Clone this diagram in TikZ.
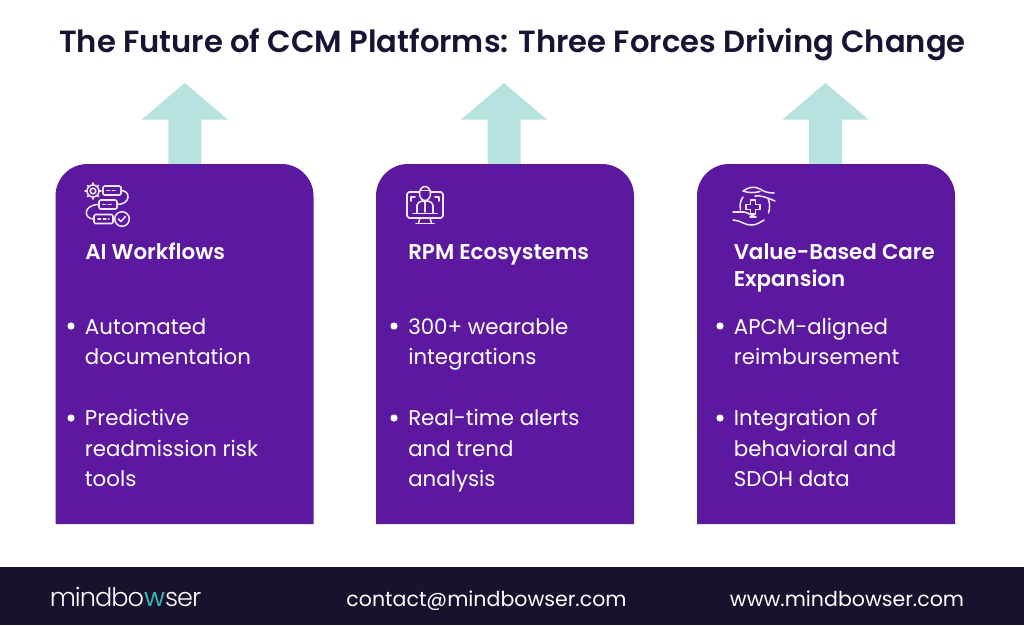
\documentclass[tikz,border=0pt]{standalone}
\usepackage{fontspec}
\setmainfont{Poppins}
\newfontfamily\semibold{Poppins SemiBold}
\newfontfamily\logofont[LetterSpace=-3.8]{Poppins Light}
\newfontfamily\logoaccent[LetterSpace=-3.8]{Poppins}
\definecolor{ink}{HTML}{1A1233}
\definecolor{barbg}{HTML}{1B112E}
\definecolor{cardbg}{HTML}{5C199F}
\definecolor{arrowbg}{HTML}{B8E2E0}
\definecolor{teal}{HTML}{35B5B0}
\definecolor{iconline}{HTML}{F0E6FA}
\tikzset{
  px/.style={x=0.75pt,y=-0.75pt},
  titletext/.style={anchor=base,text=ink,font=\semibold\fontsize{22.97pt}{28pt}\selectfont,inner sep=0pt},
  headtext/.style={anchor=base west,text=white,font=\semibold\fontsize{16.05pt}{20pt}\selectfont,inner sep=0pt},
  bodytext/.style={anchor=base west,text=white,font=\fontsize{16pt}{20pt}\selectfont,inner sep=0pt},
  foottext/.style={anchor=base,text=white,font=\fontsize{15.4pt}{20pt}\selectfont,inner sep=0pt},
  bulletdot/.style={circle,fill=white,inner sep=0pt,minimum size=5.4pt},
  iconstroke/.style={draw=iconline,line width=1.15pt,line cap=round,line join=round},
}
\newcommand{\upcard}[2]{%
  \fill[arrowbg] (#2-16.5,164) -- (#2-16.5,119.5) -- (#2-43,119.5) -- (#2,83) -- (#2+43,119.5) -- (#2+16.5,119.5) -- (#2+16.5,164) -- cycle;
  \fill[cardbg] (#1,524) -- (#1,196) arc[start angle=180,end angle=270,radius=32] -- (#1+226,164) arc[start angle=270,end angle=360,radius=32] -- (#1+258,524) -- cycle;
}
\begin{document}
\begin{tikzpicture}[px]
\useasboundingbox (0,0) rectangle (1024,625);
\fill[white] (0,0) rectangle (1024,625);
\node[titletext] (title) at (512.5,52) {The Future of CCM Platforms: Three Forces Driving Change};
\upcard{55.5}{184.8}
\upcard{376}{504}
\upcard{697}{825.5}
\fill[barbg] (0,567) rectangle (1024,625);
% icon 1
\begin{scope}[iconstroke]
\draw (93,191) circle (2.8);
\foreach \a in {0,45,...,315}{\draw (93,191) ++(\a:6) -- ++(\a:2);}
\draw (93,191) circle (6);
\draw[rounded corners=1pt] (103,186) rectangle (121,195);
\draw[rounded corners=1pt] (99,200) rectangle (117,209);
\draw[rounded corners=1pt] (94,214.5) rectangle (113,223.5);
\draw (121,190.5) .. controls (131,190.5) and (131,204.5) .. (117,204.5);
\draw (99,204.5) .. controls (83,204.5) and (83,219) .. (94,219);
\draw (122,219) circle (7.3);
\draw (118.5,219) -- (121,221.5) -- (125.5,216.5);
\draw[dash pattern=on 2pt off 2pt] (107,190.5) -- (117,190.5);
\draw[dash pattern=on 2pt off 2pt] (103,204.5) -- (113,204.5);
\draw[dash pattern=on 2pt off 2pt] (98,219) -- (109,219);
\end{scope}
% icon 2
\begin{scope}[iconstroke]
\draw (419,192) -- (409,192) -- (407,194) -- (407,216) -- (409,218) -- (441,218) -- (443,216) -- (443,194) -- (441,192) -- (431,192);
\draw (420,218) -- (418.5,223) (430,218) -- (431.5,223);
\draw (416,223.5) -- (434,223.5);
\draw (425,193.5) ellipse (5.5 and 7);
\draw (420,190.5) -- (430,190.5);
\draw (417,213) -- (417,205) .. controls (417,202.5) and (420,202) .. (422,201) -- (428,201) .. controls (430,202) and (433,202.5) .. (433,205) -- (433,213);
\draw (413,213.5) -- (437,213.5);
\draw (425,201) -- (425,212);
\draw (411,201) -- (411,197) -- (415,197);
\draw (439,201) -- (439,197) -- (435,197);
\end{scope}
% icon 3
\begin{scope}[iconstroke]
\draw (743,191) .. controls (748,187) and (755,186) .. (760,189) .. controls (764,192) and (769,193) .. (774,193);
\draw (743,191) .. controls (748,193) and (755,193) .. (760,191.5);
\draw (755,196) .. controls (761,195) and (768,198) .. (775,201);
\draw (733,212) -- (744,212) .. controls (748,212.5) and (752,216) .. (756,217) -- (750,217);
\draw (733,220) .. controls (740,220) and (746,226) .. (752,225) .. controls (756,225) and (760,222.5) .. (764,220);
\draw (743,197) .. controls (740.5,200) and (739.5,205) .. (740.5,210);
\draw (768,198) .. controls (770,203) and (770,208) .. (768.5,213);
\draw (750.5,200) -- (755.5,200) -- (755.5,204.5) -- (760,204.5) -- (760,209.5) -- (755.5,209.5) -- (755.5,214) -- (750.5,214) -- (750.5,209.5) -- (746,209.5) -- (746,204.5) -- (750.5,204.5) -- cycle;
\end{scope}
% card 1
\node[headtext] (h1) at (85,259) {AI Workflows};
\node[bulletdot] (b11) at (71,326) {};
\node[bodytext] (t11) at (84.7,334) {Automated};
\node[bodytext] (t12) at (84.7,364.5) {documentation};
\node[bulletdot] (b12) at (71,418) {};
\node[bodytext] (t13) at (84.7,425.5) {Predictive};
\node[bodytext] (t14) at (84.7,456) {readmission risk};
\node[bodytext] (t15) at (84.7,486.5) {tools};
% card 2
\node[headtext] (h2) at (408,259) {RPM Ecosystems};
\node[bulletdot] (b21) at (394,326) {};
\node[bodytext] (t21) at (408,334) {300+ wearable};
\node[bodytext] (t22) at (408,364.5) {integrations};
\node[bulletdot] (b22) at (394,418) {};
\node[bodytext] (t23) at (408,425.5) {Real-time alerts};
\node[bodytext] (t24) at (408,456) {and trend};
\node[bodytext] (t25) at (408,486.5) {analysis};
% card 3
\node[headtext] (h3) at (733.5,259) {Value-Based Care};
\node[headtext] (h3b) at (733.5,286) {Expansion};
\node[bulletdot] (b31) at (720,326) {};
\node[bodytext] (t31) at (733.7,334) {APCM-aligned};
\node[bodytext] (t32) at (733.7,364.5) {reimbursement};
\node[bulletdot] (b32) at (720,418) {};
\node[bodytext] (t33) at (733.7,425.5) {Integration of};
\node[bodytext] (t34) at (733.7,456) {behavioral and};
\node[bodytext] (t35) at (733.7,486.5) {SDOH data};
% footer
\node[anchor=base west,inner sep=0pt,font=\logofont\fontsize{19.2pt}{22pt}\selectfont] (logo) at (49.5,606) {\textcolor{white}{mindbo}{\logoaccent\textcolor{teal}{w}}\textcolor{white}{ser}};
\node[foottext] (mail) at (486.5,606) {contact@mindbowser.com};
\node[foottext] (web) at (847,606) {www.mindbowser.com};
\end{tikzpicture}
\end{document}
